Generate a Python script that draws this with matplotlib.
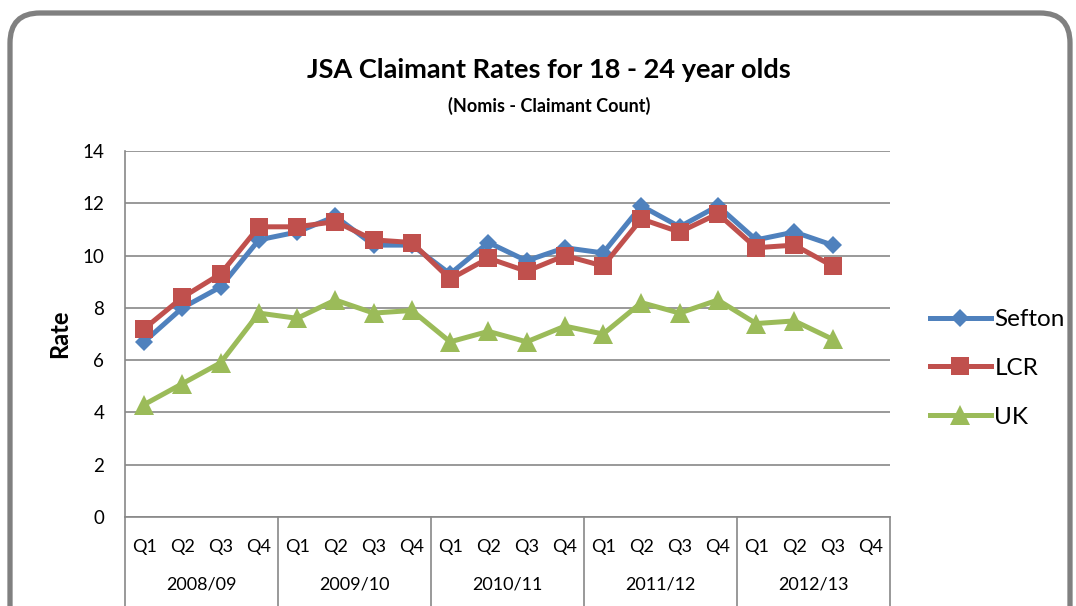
import numpy as np
import matplotlib
matplotlib.use("Agg")
import matplotlib.pyplot as plt
from matplotlib.patches import FancyBboxPatch
from matplotlib.transforms import IdentityTransform

# --- Data ---
YEARS = ["2008/09", "2009/10", "2010/11", "2011/12", "2012/13"]
QUARTERS = ["Q1", "Q2", "Q3", "Q4"]
SEFTON = [6.7, 8.0, 8.8, 10.6, 10.9, 11.5, 10.4, 10.4, 9.3, 10.5,
          9.8, 10.3, 10.1, 11.9, 11.1, 11.9, 10.6, 10.9, 10.4]
LCR = [7.2, 8.4, 9.3, 11.1, 11.1, 11.3, 10.6, 10.5, 9.1, 9.9,
       9.4, 10.0, 9.6, 11.4, 10.9, 11.6, 10.3, 10.4, 9.6]
UK = [4.3, 5.1, 5.9, 7.8, 7.6, 8.3, 7.8, 7.9, 6.7, 7.1,
      6.7, 7.3, 7.0, 8.2, 7.8, 8.3, 7.4, 7.5, 6.8]
Y_TICKS = [0, 2, 4, 6, 8, 10, 12, 14]

plt.rcParams['font.family'] = ['Lato', 'DejaVu Sans']

W, H = 1076, 606
fig = plt.figure(figsize=(W / 100, H / 100), dpi=100)
ax = fig.add_axes([125 / W, (H - 517) / H, (890 - 125) / W, (517 - 151) / H])

n_cat = len(YEARS) * len(QUARTERS)
x = np.arange(len(SEFTON))

# series
ax.plot(x, SEFTON, color='#4F81BD', lw=3.6, marker='D', ms=9.5,
        markeredgewidth=0, label='Sefton', zorder=3)
ax.plot(x, LCR, color='#C0504D', lw=3.6, marker='s', ms=13,
        markeredgewidth=0, label='LCR', zorder=4)
ax.plot(x, UK, color='#9BBB59', lw=3.6, marker='^', ms=14,
        markeredgewidth=0, label='UK', zorder=3)

ax.set_xlim(-0.5, n_cat - 0.5)
ax.set_ylim(0, 14)
ax.set_yticks(Y_TICKS)
ax.yaxis.grid(True, color='#888888', lw=1.2)
ax.set_axisbelow(True)
ax.tick_params(axis='y', length=0, labelsize=13.5, pad=15)
ax.set_xticks([])
for s in ['top', 'right']:
    ax.spines[s].set_visible(False)
for s in ['left', 'bottom']:
    ax.spines[s].set_color('#888888')
    ax.spines[s].set_linewidth(1.2)

ax.set_ylabel('Rate', fontsize=17, fontweight='bold', labelpad=8)

# multi-level category axis
tr = ax.get_xaxis_transform()
ax_h = 517 - 151
for i in range(n_cat):
    ax.text(i, -30 / ax_h, QUARTERS[i % 4], transform=tr, ha='center',
            va='center', fontsize=13)
for j, yr in enumerate(YEARS):
    ax.text(j * 4 + 1.5, -68 / ax_h, yr, transform=tr, ha='center',
            va='center', fontsize=13)
for j in range(len(YEARS) + 1):
    ax.plot([j * 4 - 0.5, j * 4 - 0.5], [0, -0.3], transform=tr,
            color='#888888', lw=1.2, clip_on=False)

# titles
fig.text(549 / W, 1 - 70 / H, 'JSA Claimant Rates for 18 - 24 year olds',
         ha='center', va='center', fontsize=19.5, fontweight='bold')
fig.text(549 / W, 1 - 106 / H, '(Nomis - Claimant Count)',
         ha='center', va='center', fontsize=13, fontweight='bold')

# legend
fig.legend(loc='upper left', bbox_to_anchor=(930 / W, 1 - 309 / H),
           frameon=False, fontsize=17.5, handlelength=2.5, handletextpad=0.15,
           labelspacing=1.15, borderpad=0, borderaxespad=0)

# rounded outer border
border = FancyBboxPatch((10, -60), 1060, H - 13 + 60,
                        boxstyle='round,pad=0,rounding_size=30',
                        transform=IdentityTransform(), fill=False,
                        edgecolor='#808080', lw=3.8)
fig.patches.append(border)

fig.savefig('out.png', dpi=100)
